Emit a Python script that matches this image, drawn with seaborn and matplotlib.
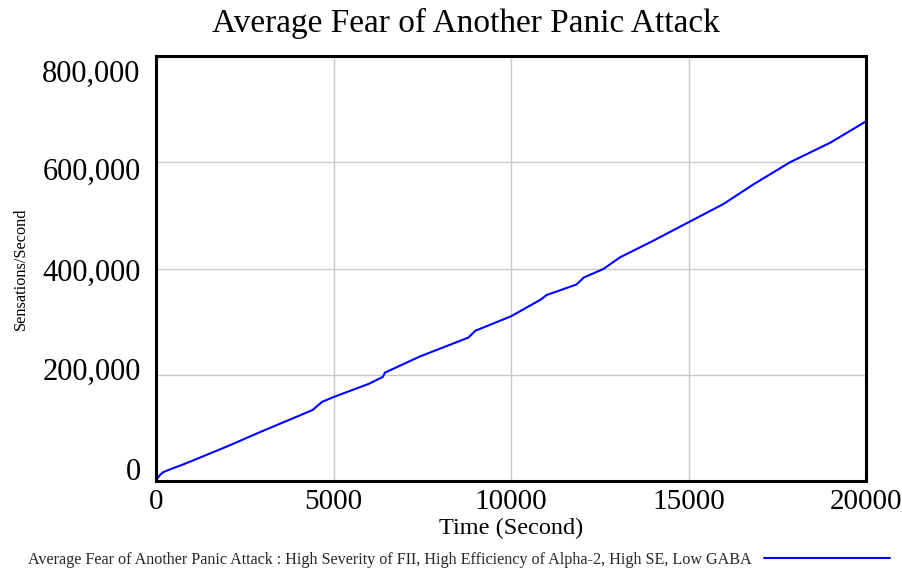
import matplotlib
matplotlib.use("Agg")
import matplotlib.pyplot as plt
import matplotlib.transforms as mtransforms
from matplotlib.ticker import FuncFormatter
import seaborn as sns
import pandas as pd

time_s = [0, 50, 100, 200, 400, 760, 1000, 2000, 3000, 4000, 4420, 4680, 5000,
          6000, 6390, 6450, 7420, 8800, 9000, 10000, 10850, 11000, 11850, 12050,
          12600, 13070, 14000, 15000, 16000, 16820, 17860, 19000, 20000]
fear = [0, 6000, 10500, 16500, 22000, 31000, 37500, 65000, 94000, 122000, 134000,
        149000, 158000, 183000, 196000, 204000, 234000, 270000, 283000, 310000,
        342000, 350000, 370000, 383000, 399000, 421000, 452000, 487000, 522000,
        558000, 600000, 637000, 677000]
series_label = ("Average Fear of Another Panic Attack : High Severity of FII, "
                "High Efficiency of Alpha-2, High SE, Low GABA")
y_ticks = [0, 200000, 400000, 600000, 800000]
x_ticks = [0, 5000, 10000, 15000, 20000]

df = pd.DataFrame({"Time": time_s, "Fear": fear})

sns.set_theme(style="white")
plt.rcParams["font.family"] = ["Liberation Serif", "DejaVu Serif"]

fig = plt.figure(figsize=(9.02, 5.70), dpi=100)
ax = fig.add_axes([156/902, 89/570, 710/902, 425/570])

sns.lineplot(data=df, x="Time", y="Fear", ax=ax, color="#0000ff", linewidth=1.5,
             label=series_label, legend=False)

ax.set_xlim(0, 20000)
ax.set_ylim(0, 800000)
ax.set_xticks(x_ticks)
ax.set_yticks(y_ticks)
ax.yaxis.set_major_formatter(FuncFormatter(lambda v, p: f"{int(v):,}"))
ax.grid(True, color="#c8c8c8", linewidth=1.0)
ax.set_axisbelow(True)
for sp in ax.spines.values():
    sp.set_color("black")
    sp.set_linewidth(2.2)
ax.tick_params(axis="both", length=0, colors="black")
ax.tick_params(axis="x", pad=6, labelsize=21)
ax.tick_params(axis="y", pad=11, labelsize=22)

# vertical offsets for y tick labels (Vensim places them evenly)
offsets_px = [11.5, 5.5, -1, -6.5, -14.5]
fig.canvas.draw()
for lab, off in zip(ax.get_yticklabels(), offsets_px):
    lab.set_transform(lab.get_transform() +
                      mtransforms.ScaledTranslation(0, off / 100, fig.dpi_scale_trans))

ax.set_title("Average Fear of Another Panic Attack", fontsize=24, pad=17,
             color="black", x=(466 - 156) / 710)
ax.set_xlabel("Time (Second)", fontsize=17.5, labelpad=2, color="black")
ax.set_ylabel("Sensations/Second", fontsize=11.7, labelpad=10, color="black")

handles, labels = ax.get_legend_handles_labels()
fig.legend(handles, labels, loc="center", bbox_to_anchor=(459/902, 10/570),
           markerfirst=False, frameon=False, fontsize=11.6, handlelength=7.8,
           handletextpad=0.75)

fig.savefig("out.png", dpi=100)
